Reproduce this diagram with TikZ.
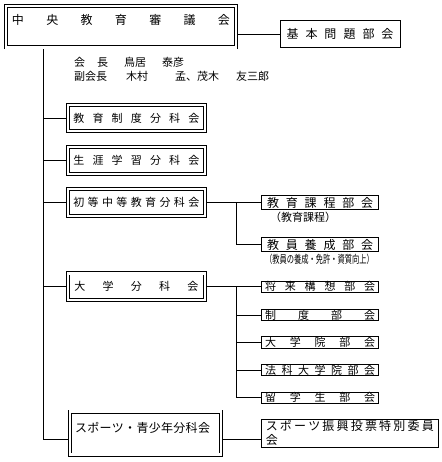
\documentclass[tikz,border=0pt]{standalone}
\usepackage{fontspec}
\setmainfont{Noto Sans CJK JP}
\usepackage{graphicx}
\usetikzlibrary{backgrounds}

% spread the characters of #2 evenly over width #1
\newcommand\spreadtext[2]{\makebox[#1][s]{\spreadfirst#2\relax}}
\def\spreadfirst#1{#1\spreadrest}
\def\spreadrest#1{\ifx\relax#1\else\hfill#1\expandafter\spreadrest\fi}

\begin{document}
\begin{tikzpicture}[x=1pt, y=-1pt,
    every node/.style={inner sep=0pt},
    conn/.style={line width=0.9pt},
    dbox/.style={draw, double, double distance=2.2pt, line width=0.9pt},
    sbox/.style={draw, line width=0.9pt},
    bunka/.style={dbox, minimum width=136.7pt, minimum height=26.6pt, font=\fontsize{11}{13}\selectfont},
    bukai/.style={sbox, minimum width=116.8pt, minimum height=11.5pt, font=\fontsize{11}{13}\selectfont}]
    \useasboundingbox (0,0) rectangle (441,462);

    % Council
    \node[dbox, minimum width=230pt, minimum height=41.5pt, text height=19pt, text depth=22.5pt,
        font=\fontsize{12}{14}\selectfont] (chuo) at (121,26.75) {\spreadtext{218pt}{中央教育審議会}};
    \node[sbox, minimum width=120pt, minimum height=27pt, font=\fontsize{12}{14}\selectfont]
        (kihon) at (340,34) {\spreadtext{107pt}{基本問題部会}};
    \node[anchor=north west, align=left, font=\fontsize{11}{14}\selectfont] (kaicho) at (74,57)
        {会\hspace{12pt}長\hspace{16pt}鳥居\hspace{16pt}泰彦\\
         副会長\hspace{19pt}木村\hspace{27pt}孟、茂木\hspace{17pt}友三郎};

    % Subcommittees
    \node[bunka] (seido) at (136.35,118) {\spreadtext{126pt}{教育制度分科会}};
    \node[bunka] (shogai) at (136.35,160.5) {\spreadtext{126pt}{生涯学習分科会}};
    \node[bunka] (shotou) at (136.35,202.5) {\spreadtext{126pt}{初等中等教育分科会}};
    \node[bunka] (daigaku) at (136.35,286.7) {\spreadtext{124pt}{大学分科会}};
    \node[dbox, minimum width=151pt, minimum height=43pt, text height=20.5pt, text depth=22.5pt,
        font=\fontsize{12}{14}\selectfont] (sports) at (145.5,433)
        {\makebox[141pt][l]{\spreadtext{135pt}{スポーツ・青少年分科会}}};

    % Sections
    \node[bukai, minimum height=14pt, font=\fontsize{12}{14}\selectfont] (katei) at (320.1,202.5)
        {\spreadtext{106pt}{教育課程部会}};
    \node[font=\fontsize{11}{13}\selectfont] (kateinote) at (303,217) {（教育課程）};
    \node[bukai, minimum height=13.5pt, font=\fontsize{12}{14}\selectfont] (yosei) at (320.1,244.5)
        {\spreadtext{106pt}{教員養成部会}};
    \node[font=\fontsize{11}{13}\selectfont] (yoseinote) at (319.5,259)
        {\scalebox{0.66}[1]{（教員の養成・免許・資質向上）}};

    \node[bukai] (shorai) at (320.1,286.7) {\spreadtext{110pt}{将来構想部会}};
    \node[bukai] (seidob) at (320.1,315) {\spreadtext{110pt}{制度部会}};
    \node[bukai] (daigakuin) at (320.1,342.5) {\spreadtext{110pt}{大学院部会}};
    \node[bukai] (houka) at (320.1,370) {\spreadtext{110pt}{法科大学院部会}};
    \node[bukai] (ryugaku) at (320.1,397.7) {\spreadtext{110pt}{留学生部会}};

    \node[sbox, minimum width=176.5pt, minimum height=28pt, align=left,
        font=\fontsize{12}{13.5}\selectfont] (iinkai) at (349.75,433)
        {\spreadtext{168pt}{スポーツ振興投票特別委員}\\会};

    % Connectors
    \coordinate (trunktop) at (43.3,47.5);
    \coordinate (trunkend) at (43.3,439.3);
    \coordinate (j1) at (236,202.5);
    \coordinate (j2) at (236,286.7);
    \begin{scope}[on background layer]
        \draw[conn] (kihon.west) -- (kihon.west -| chuo.east);
        \draw[conn] (trunktop) -- (trunkend) -- (trunkend -| sports.west);
        \foreach \n in {seido,shogai,shotou,daigaku}
            \draw[conn] (\n.west -| trunktop) -- (\n.west);
        \draw[conn] (shotou.east) -- (katei.west);
        \draw[conn] (j1) |- (yosei.west);
        \draw[conn] (daigaku.east) -- (shorai.west);
        \draw[conn] (j2) |- (ryugaku.west);
        \foreach \n in {seidob,daigakuin,houka}
            \draw[conn] (\n.west -| j2) -- (\n.west);
        \draw[conn] (sports.east |- trunkend) -- (iinkai.west |- trunkend);
    \end{scope}
\end{tikzpicture}
\end{document}
